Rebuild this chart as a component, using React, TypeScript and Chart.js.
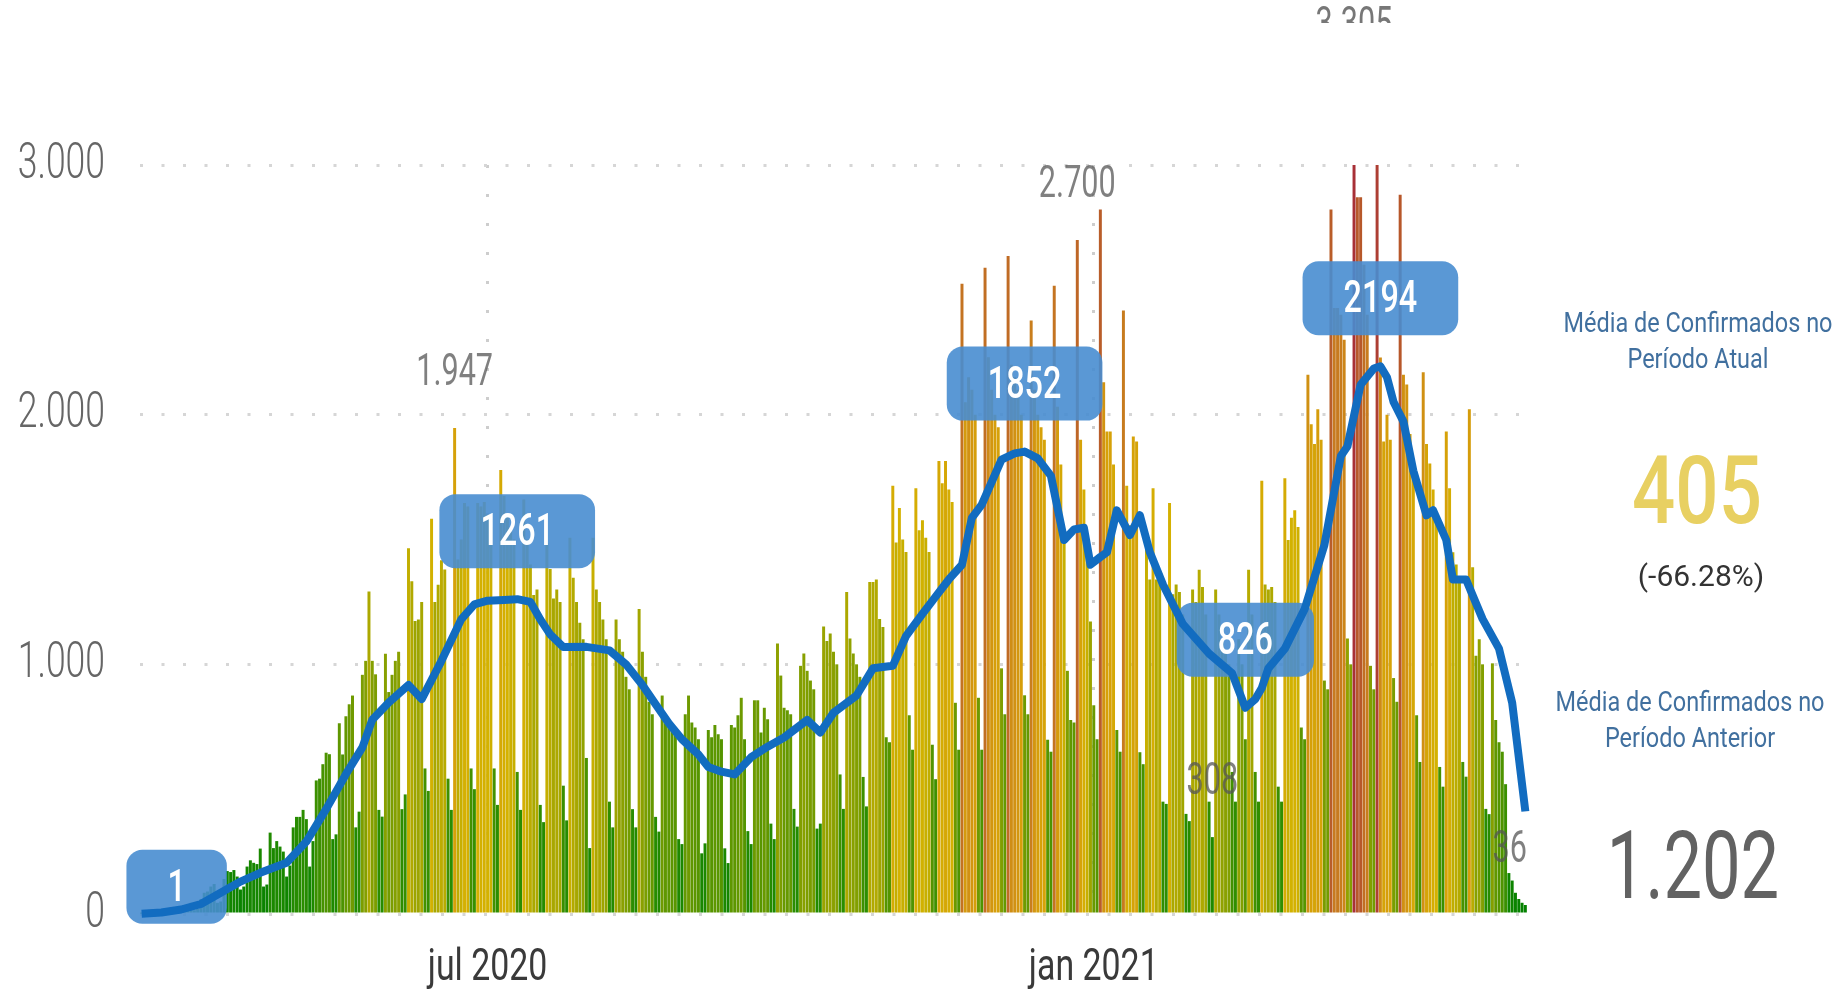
import React, { useEffect, useRef } from "react";
import { Chart, registerables } from "chart.js";

Chart.register(...registerables);

// ---------------- DATA ----------------
const startDate = "2020-03-18";
const xTickDates = ["2020-07-01", "2021-01-01"];
const xTickLabels = ["jul 2020", "jan 2021"];
const yTickValues = [0, 1000, 2000, 3000];
const yMax = 3000;

// daily confirmed cases, one week per line
const dailyConfirmed = [
  1, 0, 0, 2,
  3, 6, 8, 10, 12, 4, 5,
  20, 30, 35, 40, 45, 15, 20,
  60, 85, 90, 110, 120, 45, 50,
  140, 172, 168, 176, 150, 98, 110,
  190, 215, 205, 200, 262, 110, 118,
  326, 264, 292, 270, 250, 150, 194,
  347, 389, 389, 417, 380, 190, 292,
  535, 542, 600, 646, 640, 300, 319,
  764, 639, 792, 840, 875, 347, 410,
  958, 1014, 1292, 1014, 960, 417, 390,
  1042, 889, 958, 1014, 1050, 420, 479,
  1465, 1333, 1174, 1180, 1250, 583, 493,
  1583, 1250, 1319, 1417, 1380, 542, 417,
  1947, 1420, 1500, 1646, 1632, 583, 500,
  1646, 1632, 1650, 1600, 1550, 583, 437,
  1778, 1674, 1600, 1541, 1500, 569, 417,
  1660, 1500, 1400, 1278, 1300, 437, 368,
  1486, 1382, 1264, 1300, 1250, 514, 375,
  1507, 1347, 1250, 1167, 1100, 625, 264,
  1507, 1300, 1250, 1180, 1100, 450, 347,
  1180, 1100, 1050, 950, 900, 420, 347,
  1222, 1050, 950, 850, 800, 389, 330,
  875, 764, 750, 740, 720, 300, 280,
  800, 875, 767, 747, 700, 243, 283,
  737, 708, 757, 720, 700, 263, 204,
  757, 747, 796, 866, 700, 332, 280,
  856, 856, 727, 826, 780, 362, 300,
  1083, 955, 826, 816, 800, 421, 350,
  994, 1043, 974, 935, 900, 342, 362,
  1152, 1093, 1123, 1050, 1000, 559, 421,
  1290, 1103, 1043, 1000, 950, 549, 431,
  1330, 1330, 1340, 1182, 1150, 708, 688,
  1715, 1488, 1626, 1500, 1450, 796, 658,
  1705, 1537, 1577, 1507, 1450, 678, 540,
  1814, 1725, 1814, 1700, 1650, 846, 658,
  2524, 2050, 2150, 2100, 2000, 866, 658,
  2588, 2230, 2100, 2000, 1950, 984, 800,
  2636, 2200, 2150, 2100, 2000, 876, 800,
  2377, 2100, 2000, 1950, 1900, 698, 650,
  2516, 2032, 1800, 1500, 974, 777, 767,
  2700, 1900, 1700, 1500, 1172, 836, 700,
  2822, 2130, 1933, 1933, 1800, 737, 650,
  2417, 1715, 1557, 1913, 1893, 648, 600,
  1498, 1340, 1705, 1340, 1360, 450, 441,
  1646, 1281, 1320, 1290, 1200, 401, 372,
  1300, 1250, 1379, 1310, 1200, 450, 308,
  1300, 1200, 1100, 1050, 1000, 569, 450,
  1100, 1000, 700, 1379, 1200, 569, 450,
  1735, 1320, 1300, 1310, 1250, 510, 450,
  1745, 1498, 1587, 1617, 1550, 747, 700,
  2160, 1962, 1883, 2022, 1900, 935, 900,
  2822, 2427, 2427, 2400, 2300, 1103, 1000,
  3305, 2871, 2871, 2600, 2400, 994, 900,
  3150, 2229, 1893, 2000, 1900, 945, 850,
  2881, 2160, 2121, 1923, 1800, 796, 609,
  2170, 1883, 1804, 1700, 1600, 589, 510,
  1933, 1705, 1449, 1400, 1350, 609, 550,
  2022, 1389, 1034, 1100, 1000, 421, 400,
  1004, 777, 688, 650, 520, 164, 134,
  85, 60, 45, 36,
];

// moving average (blue line), read as day index / value pairs
const maDays = [
  0, 6, 12, 18, 24, 30, 36, 44, 50, 56, 62, 67, 70, 75, 81, 85, 91, 97, 101, 105,
  110, 114, 118, 121, 124, 128, 135, 142, 147, 152, 156, 160, 164, 169, 172, 176, 180, 185, 190, 195,
  202, 206, 210, 217, 222, 228, 232, 237, 241, 245, 249, 252, 255, 261, 265, 268, 272, 276, 280, 283,
  286, 288, 291, 293, 296, 300, 303, 306, 310, 316, 324, 331, 335, 338, 340, 342, 347, 353, 359, 364,
  366, 370, 374, 376, 378, 380, 383, 386, 390, 392, 396, 398, 402, 407, 412, 416, 420,
];
const maValues = [
  1, 6, 18, 40, 85, 130, 165, 205, 290, 420, 560, 667, 778, 847, 917, 861, 1014, 1180, 1240, 1255,
  1258, 1261, 1250, 1180, 1120, 1069, 1070, 1056, 1000, 917, 840, 764, 700, 639, 589, 570, 559, 628, 670, 707,
  777, 727, 806, 875, 984, 994, 1113, 1202, 1271, 1340, 1399, 1587, 1640, 1820, 1845, 1852, 1825, 1755, 1498, 1540,
  1547, 1399, 1430, 1449, 1617, 1518, 1597, 1450, 1320, 1162, 1043, 964, 826, 860, 905, 984, 1063, 1221, 1478, 1834,
  1873, 2120, 2185, 2194, 2150, 2051, 1972, 1775, 1597, 1617, 1498, 1340, 1340, 1182, 1063, 846, 411,
];
const maLabelDays = [0, 114, 268, 335, 376];
const barLabelDays = [95, 284, 325, 368, 420];

const panelTitleCurrent = ["Média de Confirmados no", "Período Atual"];
const panelValueCurrent = "405";
const panelChange = "(-66.28%)";
const panelTitlePrevious = ["Média de Confirmados no", "Período Anterior"];
const panelValuePrevious = "1.202";

// ---------------- HELPERS ----------------
const dayIndex = (s: string) =>
  Math.round((Date.parse(s) - Date.parse(startDate)) / 86400000);
const xTickDays = xTickDates.map(dayIndex);
const fmt = (v: number) => String(v).replace(/\B(?=(\d{3})+(?!\d))/g, ".");

const colorStops: [number, number[]][] = [
  [0, [0, 128, 0]],
  [400, [40, 140, 0]],
  [800, [100, 152, 0]],
  [1200, [160, 165, 0]],
  [1600, [212, 178, 0]],
  [2000, [214, 158, 10]],
  [2400, [200, 124, 30]],
  [2800, [186, 95, 40]],
  [3300, [168, 48, 55]],
];
function barColor(v: number) {
  for (let i = 1; i < colorStops.length; i++) {
    const [v1, c1] = colorStops[i];
    const [v0, c0] = colorStops[i - 1];
    if (v <= v1 || i === colorStops.length - 1) {
      const t = Math.max(0, Math.min(1, (v - v0) / (v1 - v0)));
      const c = c0.map((a, k) => Math.round(a + (c1[k] - a) * t));
      return `rgb(${c[0]},${c[1]},${c[2]})`;
    }
  }
  return "rgb(0,128,0)";
}

const FONT = "Roboto, 'Liberation Sans', sans-serif";

function drawText(
  ctx: CanvasRenderingContext2D,
  text: string,
  x: number,
  y: number,
  o: { font: string; color: string; sx: number; align?: CanvasTextAlign; baseline?: CanvasTextBaseline }
) {
  ctx.save();
  ctx.font = o.font;
  ctx.fillStyle = o.color;
  ctx.textAlign = o.align || "center";
  ctx.textBaseline = o.baseline || "middle";
  ctx.translate(x, y);
  ctx.scale(o.sx, 1);
  ctx.fillText(text, 0, 0);
  ctx.restore();
}

const overlayPlugin = {
  id: "overlay",
  afterDatasetDraw(chart: any, args: any) {
    if (args.index !== 0) return;
    const ctx: CanvasRenderingContext2D = chart.ctx;
    const xs = chart.scales.x;
    const ys = chart.scales.y;
    maLabelDays.forEach((d, i) => {
      const v = maValues[maDays.indexOf(d)];
      const [dx, dy] = i === 0 ? [35, -27] : [0, -68];
      const cx = xs.getPixelForValue(d) + dx;
      const cy = ys.getPixelForValue(v) + dy;
      const font = `500 45px ${FONT}`;
      ctx.save();
      ctx.font = font;
      const tw = ctx.measureText(String(v)).width * 0.72;
      const w = tw + 82;
      const h = 74;
      ctx.fillStyle = "rgba(72,141,208,0.9)";
      ctx.beginPath();
      (ctx as any).roundRect(cx - w / 2, cy - h / 2, w, h, 16);
      ctx.fill();
      ctx.restore();
      drawText(ctx, String(v), cx, cy + 3, { font, color: "#ffffff", sx: 0.72 });
    });
  },
  afterDatasetsDraw(chart: any) {
    const ctx: CanvasRenderingContext2D = chart.ctx;
    const xs = chart.scales.x;
    const ys = chart.scales.y;
    const area = chart.chartArea;
    const font = `45px ${FONT}`;
    barLabelDays.forEach((d) => {
      const v = dailyConfirmed[d];
      const text = fmt(v);
      ctx.save();
      ctx.font = font;
      const tw = ctx.measureText(text).width * 0.68;
      ctx.restore();
      let cx = xs.getPixelForValue(d);
      if (cx + tw / 2 > area.right) cx = area.right - tw / 2;
      if (v > yMax) {
        ctx.save();
        ctx.beginPath();
        ctx.rect(0, 0, chart.width, 23);
        ctx.clip();
        drawText(ctx, text, cx, 4, { font, color: "rgba(85,85,85,0.8)", sx: 0.68, baseline: "top" });
        ctx.restore();
      } else {
        const cy = ys.getPixelForValue(v) - 54;
        drawText(ctx, text, cx, cy, { font, color: "rgba(85,85,85,0.75)", sx: 0.68 });
      }
    });
  },
  afterDraw(chart: any) {
    const ctx: CanvasRenderingContext2D = chart.ctx;
    const xs = chart.scales.x;
    const ys = chart.scales.y;
    const area = chart.chartArea;
    ys.ticks.forEach((t: any) => {
      drawText(ctx, fmt(t.value), area.left - 35, ys.getPixelForValue(t.value), {
        font: `300 50px ${FONT}`,
        color: "#666666",
        sx: 0.71,
        align: "right",
      });
    });
    xs.ticks.forEach((t: any) => {
      const i = xTickDays.indexOf(t.value);
      drawText(ctx, xTickLabels[i], xs.getPixelForValue(t.value), area.bottom + 55, {
        font: `44px ${FONT}`,
        color: "#3a3a3a",
        sx: 0.77,
      });
    });
  },
};

function PanelText(props: {
  x: number;
  y: number;
  size: number;
  color: string;
  weight?: number;
  sx?: number;
  children: React.ReactNode;
}) {
  return (
    <div
      style={{
        position: "absolute",
        left: props.x,
        top: props.y,
        transform: `translate(-50%, -50%) scaleX(${props.sx ?? 1})`,
        fontFamily: FONT,
        fontSize: props.size,
        fontWeight: props.weight ?? 400,
        color: props.color,
        whiteSpace: "nowrap",
        lineHeight: 1,
        textAlign: "center",
      }}
    >
      {props.children}
    </div>
  );
}

export default function App() {
  const canvasRef = useRef<HTMLCanvasElement | null>(null);

  useEffect(() => {
    if (!canvasRef.current) return;
    const chart = new Chart(canvasRef.current, {
      type: "bar",
      data: {
        datasets: [
          {
            type: "bar",
            label: "Confirmados",
            data: dailyConfirmed.map((v, i) => ({ x: i, y: v })),
            backgroundColor: dailyConfirmed.map(barColor),
            barPercentage: 0.9,
            categoryPercentage: 1,
            order: 2,
            clip: 0,
          } as any,
          {
            type: "line",
            label: "Média móvel",
            data: maDays.map((d, i) => ({ x: d, y: maValues[i] })),
            borderColor: "rgb(18,108,192)",
            borderWidth: 8,
            pointRadius: 0,
            tension: 0,
            borderJoinStyle: "round",
            order: 1,
            clip: 8,
          } as any,
        ],
      },
      options: {
        responsive: false,
        animation: false,
        devicePixelRatio: 1,
        layout: { padding: { top: 165, right: 308, bottom: 0, left: 0 } },
        plugins: { legend: { display: false }, tooltip: { enabled: false } },
        scales: {
          x: {
            type: "linear",
            min: -0.5,
            max: dailyConfirmed.length - 0.5,
            offset: false,
            afterBuildTicks: (s: any) => {
              s.ticks = xTickDays.map((v) => ({ value: v }));
            },
            afterFit: (s: any) => {
              s.height = 80;
            },
            ticks: { display: false },
            grid: { drawTicks: false, offset: false, color: "#cdcdcd", lineWidth: 3 },
            border: { display: false, dash: [3, 26] },
          },
          y: {
            min: 0,
            max: yMax,
            afterBuildTicks: (s: any) => {
              s.ticks = yTickValues.map((v) => ({ value: v }));
            },
            afterFit: (s: any) => {
              s.width = 140;
            },
            ticks: { display: false },
            grid: { drawTicks: false, color: "#d6d6d6", lineWidth: 3 },
            border: { display: false, dash: [3, 18.5] },
          },
        },
      } as any,
      plugins: [overlayPlugin as any],
    });
    return () => chart.destroy();
  }, []);

  return (
    <div style={{ position: "absolute", left: 0, top: 0, width: 1835, height: 994, background: "#fff" }}>
      <canvas
        ref={canvasRef}
        width={1835}
        height={994}
        style={{ position: "absolute", left: 0, top: 0, width: 1835, height: 994 }}
      />
      <PanelText x={1698} y={323} size={27} color="#41709f" sx={0.87}>{panelTitleCurrent[0]}</PanelText>
      <PanelText x={1698} y={359} size={27} color="#41709f" sx={0.87}>{panelTitleCurrent[1]}</PanelText>
      <PanelText x={1697} y={491} size={94} color="#e8d062" weight={500} sx={0.81}>{panelValueCurrent}</PanelText>
      <PanelText x={1701} y={576} size={30} color="#333333" sx={1}>{panelChange}</PanelText>
      <PanelText x={1690} y={702} size={27} color="#41709f" sx={0.87}>{panelTitlePrevious[0]}</PanelText>
      <PanelText x={1690} y={738} size={27} color="#41709f" sx={0.87}>{panelTitlePrevious[1]}</PanelText>
      <PanelText x={1693} y={866} size={94} color="#626262" sx={0.73}>{panelValuePrevious}</PanelText>
    </div>
  );
}
